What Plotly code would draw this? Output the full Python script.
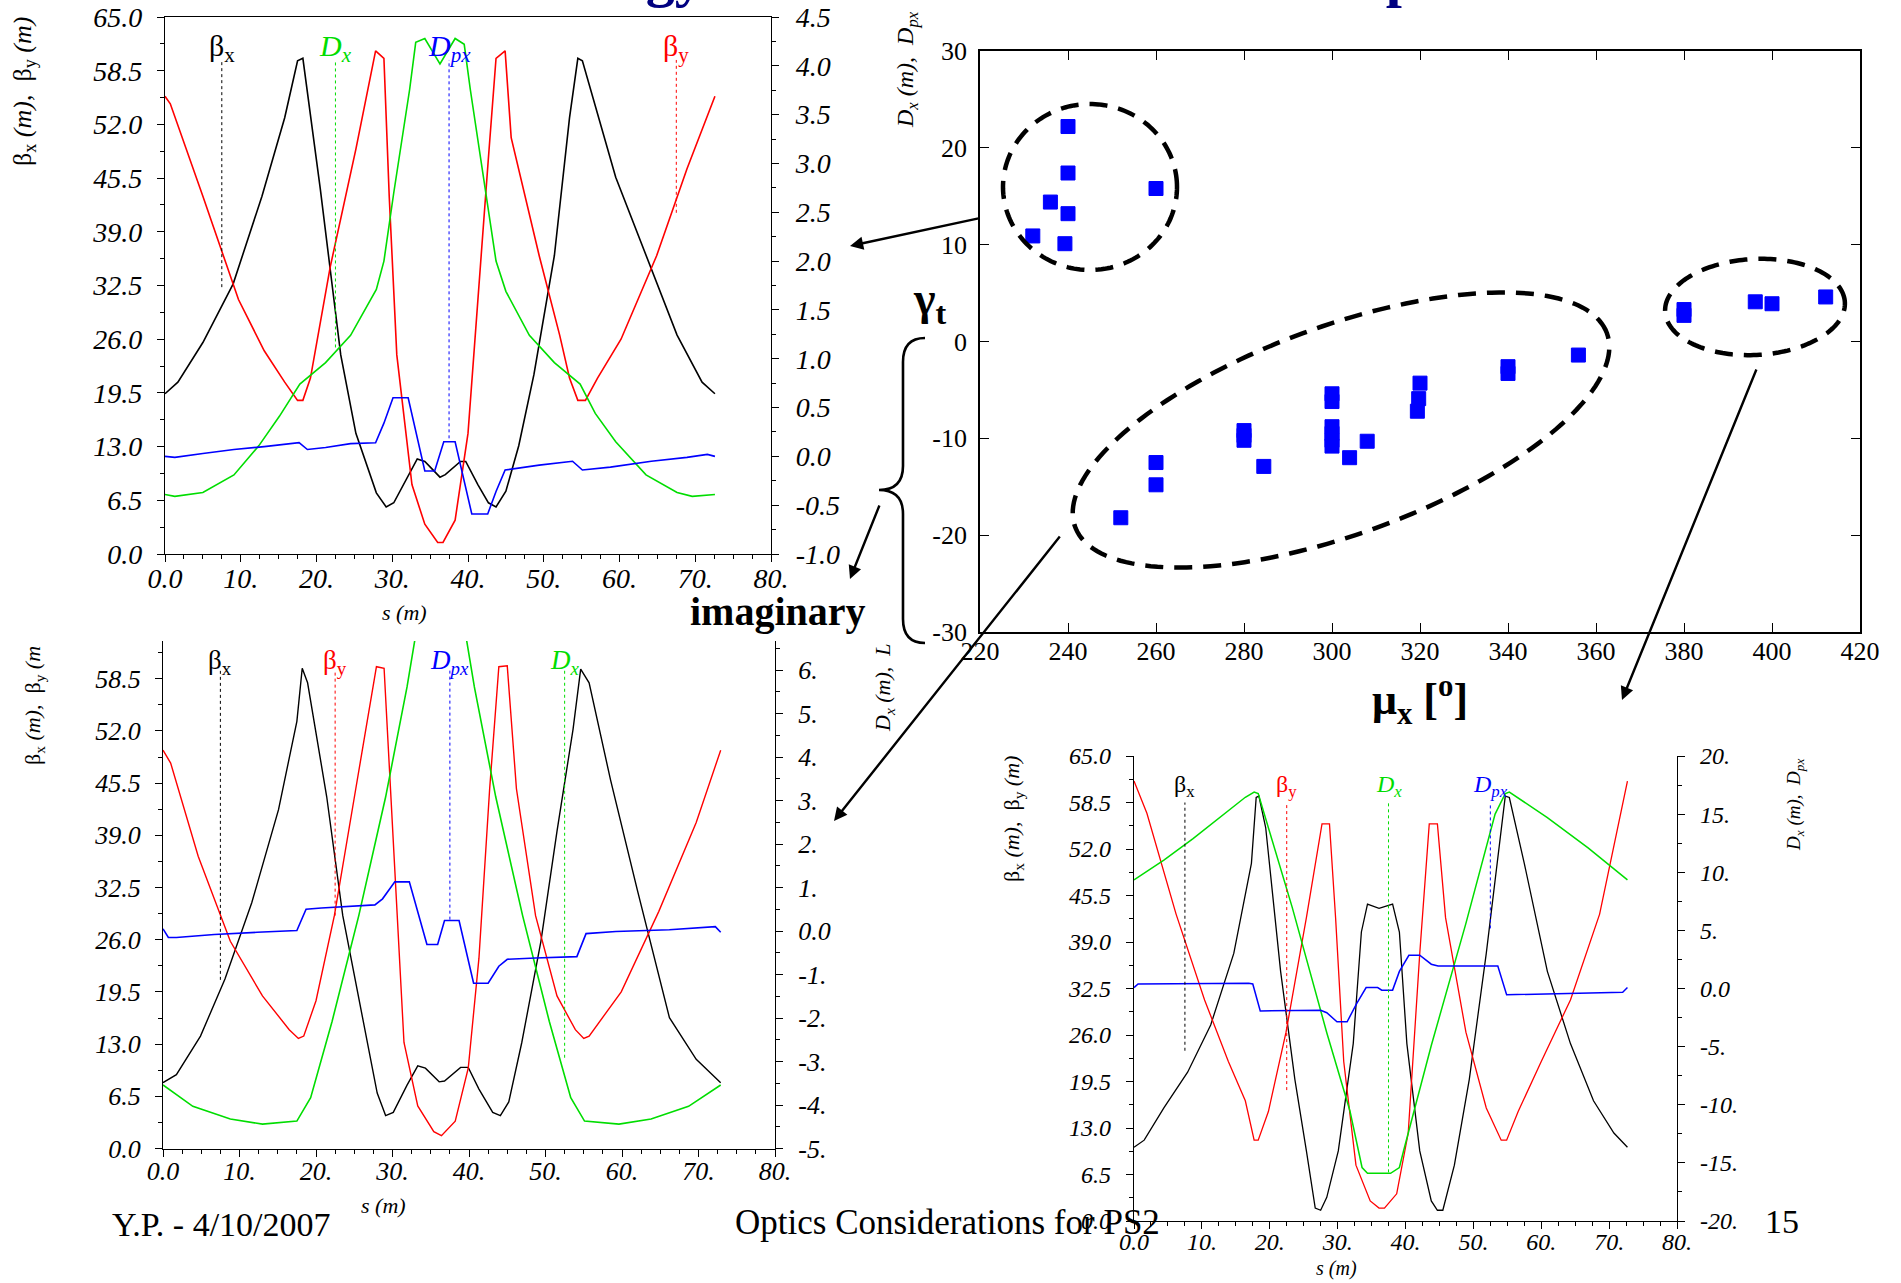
import numpy as np
import plotly.graph_objects as go

W, H = 1901, 1283
def px(x): return x / W
def py(y): return 1 - y / H

SERIF = "Liberation Serif"
BLACK, RED, GREEN, BLUE = "#000000", "#FF0000", "#00DD00", "#0000FF"

# ---------------- top-left optics (beta in m, D on right axis) ----------------
tl_s_bx = [0, 1.7, 5, 9, 12.8, 15.8, 17.5, 18.2, 20.5, 23.2, 25.2, 27.9, 29.2, 30.2, 33.3, 34.3, 36.3, 37.0, 39.0, 39.7,
           41.3, 42.7, 43.7, 45.0, 46.7, 48.7, 51.4, 53.4, 54.5, 55.1, 59.5, 63.5, 67.6, 70.9, 72.6]
tl_bx = [19.4, 20.8, 25.6, 32.7, 43.3, 52.8, 59.7, 60.0, 44.2, 24.1, 14.6, 7.4, 5.7, 6.2, 11.5, 11.2, 9.3, 9.6, 11.2, 11.2,
         8.4, 6.2, 5.7, 7.6, 13.1, 21.7, 36.1, 52.8, 60.0, 59.7, 45.6, 36.1, 26.5, 20.8, 19.4]
tl_s_by = [0, 0.7, 5, 9.7, 13.1, 15.8, 17.5, 18.2, 19.2, 21.8, 25.2, 27.8, 28.9, 29.6, 30.6, 32.6, 34.3, 36.0, 36.7, 38.3,
           40.0, 41.3, 42.7, 43.7, 44.9, 45.7, 49.4, 52.1, 53.4, 54.5, 55.5, 57.1, 60.2, 64.9, 68.9, 72.6]
tl_by = [55.4, 54.5, 43.3, 30.8, 24.6, 20.8, 18.6, 18.6, 21.3, 34.7, 49.0, 60.9, 60.0, 43.3, 24.1, 8.4, 3.6, 1.4, 1.4, 4.1,
         14.6, 31.3, 48.0, 60.0, 60.9, 50.4, 36.1, 26.5, 21.3, 18.6, 18.6, 21.3, 26.0, 36.1, 46.6, 55.4]
tl_s_dx = [0, 1.3, 5, 9.1, 12.4, 15.1, 17.8, 21.2, 24.5, 27.9, 28.9, 30.2, 32.3, 33.1, 34.3, 36.3, 38.3, 39.5, 40.3, 42.4,
           43.7, 45.0, 48.1, 51.4, 54.8, 56.8, 59.5, 63.5, 67.6, 69.6, 72.6]
tl_dx = [-0.39, -0.41, -0.37, -0.19, 0.11, 0.41, 0.74, 0.96, 1.24, 1.71, 2.00, 2.70, 3.76, 4.24, 4.28, 4.02, 4.28, 4.22, 3.76,
         2.70, 2.00, 1.69, 1.24, 0.96, 0.74, 0.44, 0.15, -0.19, -0.37, -0.41, -0.39]
tl_s_dpx = [0, 1.3, 5, 9.1, 13.1, 17.1, 17.7, 18.8, 21.2, 24.5, 27.8, 28.9, 30.1, 32.1, 34.3, 35.6, 36.8, 38.3, 40.5, 42.6,
            43.7, 44.9, 49.4, 53.8, 55.1, 58.8, 64.2, 68.9, 71.6, 72.6]
tl_dpx = [0.00, -0.01, 0.03, 0.07, 0.10, 0.14, 0.14, 0.07, 0.09, 0.13, 0.14, 0.34, 0.60, 0.60, -0.15, -0.15, 0.15, 0.15,
          -0.59, -0.59, -0.36, -0.14, -0.09, -0.05, -0.14, -0.11, -0.05, -0.01, 0.02, 0.00]

# ---------------- bottom-left optics ----------------
bl_s_bx = [0, 1.75, 4.9, 8.1, 11.6, 15.1, 17.5, 18.2, 18.9, 21.4, 23.5, 26.3, 28.0, 29.1, 30.1, 31.9, 33.3, 34.3, 36.1, 36.8,
           38.9, 39.9, 41.3, 43.1, 44.1, 45.2, 46.9, 49.4, 51.5, 53.6, 54.6, 55.7, 58.5, 62.0, 66.2, 69.7, 72.9]
bl_bx = [8.2, 9.2, 14.0, 21.1, 30.6, 42.2, 53.2, 59.8, 58.0, 43.8, 29.0, 15.3, 6.9, 4.1, 4.5, 7.9, 10.3, 10.0, 8.3, 8.4,
         10.1, 10.1, 7.4, 4.5, 4.1, 5.8, 13.2, 25.8, 39.5, 52.2, 59.7, 58.0, 45.9, 32.2, 16.3, 11.1, 8.2]
bl_s_by = [0, 1.0, 4.6, 8.8, 13.0, 16.5, 17.7, 18.4, 20.0, 22.4, 25.2, 27.9, 28.9, 30.0, 31.5, 33.3, 35.4, 36.4, 38.2, 39.9,
           41.3, 42.7, 43.9, 45.0, 46.2, 48.7, 51.5, 53.9, 55.0, 55.7, 59.9, 64.8, 69.7, 72.9]
bl_by = [49.6, 48.0, 36.4, 25.8, 19.0, 14.8, 13.7, 14.0, 18.4, 29.0, 44.8, 60.0, 59.8, 39.5, 13.2, 5.3, 2.1, 1.6, 3.4, 10.0,
         23.7, 44.8, 60.0, 60.1, 44.8, 29.0, 19.0, 14.8, 13.7, 14.0, 19.5, 29.5, 40.6, 49.6]
bl_s_dx = [0, 3.9, 8.8, 13.0, 17.5, 19.3, 22.1, 25.6, 29.1, 31.9, 33.4, 34.3, 36.3, 38.3, 39.2, 40.7, 43.5, 47.0, 50.5, 53.3,
           55.1, 59.6, 63.8, 68.7, 72.9]
bl_dx = [-3.54, -4.03, -4.32, -4.44, -4.37, -3.83, -2.08, 0.36, 3.08, 5.61, 7.2, 7.35, 6.7, 7.35, 7.2, 5.61, 3.08, 0.36,
         -2.08, -3.83, -4.37, -4.44, -4.32, -4.03, -3.54]
bl_s_dpx = [0, 0.7, 1.75, 6.7, 12.3, 17.5, 18.7, 20.7, 27.7, 28.7, 30.3, 32.2, 34.5, 35.9, 36.8, 38.7, 40.6, 42.5, 43.9, 45.0,
            48.7, 54.1, 55.3, 59.2, 66.2, 72.2, 72.9]
bl_dpx = [0.05, -0.15, -0.15, -0.08, -0.03, 0.01, 0.50, 0.53, 0.60, 0.74, 1.13, 1.13, -0.31, -0.31, 0.24, 0.24, -1.20, -1.20,
          -0.81, -0.65, -0.62, -0.59, -0.06, -0.01, 0.03, 0.10, -0.03]

# ---------------- bottom-right optics ----------------
br_s_bx = [0, 1.5, 4.4, 7.9, 11.3, 14.7, 17.3, 18.0, 18.4, 19.4, 21.6, 23.7, 25.4, 26.7, 27.5, 28.4, 30.1, 32.3, 33.5, 34.4,
           36.1, 38.1, 39.1, 40.2, 42.1, 43.8, 44.7, 45.5, 47.2, 49.4, 51.9, 54.1, 54.7, 55.3, 57.5, 60.9, 64.3, 67.7, 70.7, 72.7]
br_bx = [10.3, 11.3, 15.8, 20.8, 27.4, 37.4, 50.0, 59.2, 59.4, 55.0, 34.9, 19.8, 9.8, 1.8, 1.5, 3.3, 9.8, 24.8, 40.4, 44.3,
         43.7, 44.3, 40.4, 24.8, 9.8, 2.8, 1.5, 1.5, 7.8, 19.8, 37.4, 55.0, 59.4, 59.2, 50.0, 34.9, 24.8, 16.8, 12.3, 10.3]
br_s_by = [0, 1.9, 6.2, 10.4, 13.9, 16.4, 17.7, 18.3, 19.8, 22.4, 25.4, 27.7, 28.8, 29.7, 30.9, 32.7, 34.8, 36.1, 36.9, 38.7,
           40.4, 42.1, 43.5, 44.7, 45.9, 48.9, 51.9, 54.1, 54.9, 56.6, 60.0, 64.3, 68.6, 72.7]
br_by = [61.5, 57.0, 42.9, 30.9, 22.3, 16.8, 11.3, 11.3, 15.3, 26.4, 42.4, 55.5, 55.5, 42.4, 22.3, 7.8, 2.8, 1.8, 1.8, 3.8,
         12.3, 37.4, 55.5, 55.5, 42.4, 26.4, 15.8, 11.3, 11.3, 15.3, 22.3, 30.9, 42.9, 61.5]
br_s_dx = [0, 4.4, 8.7, 13.0, 16.4, 17.7, 18.3, 23.3, 28.4, 31.8, 33.6, 34.4, 37.8, 39.1, 39.7, 43.8, 48.9, 53.2, 54.7, 55.3,
           60.9, 66.9, 72.7]
br_dx = [9.34, 11.04, 12.9, 14.9, 16.45, 16.9, 16.76, 7.0, -3.8, -10.5, -15.4, -15.9, -15.9, -15.4, -14.0, -4.9, 5.6, 15.0,
         16.76, 16.9, 14.7, 12.1, 9.34]
br_s_dpx = [0, 0.6, 16.9, 17.5, 18.6, 27.5, 28.4, 29.9, 31.4, 32.8, 34.2, 35.9, 36.5, 38.1, 39.1, 40.5, 42.1, 43.8, 44.8,
            53.6, 54.9, 72.0, 72.7]
br_dpx = [0.08, 0.39, 0.45, 0.39, -1.93, -1.87, -2.08, -2.86, -2.86, -1.31, 0.08, 0.08, -0.14, -0.14, 1.47, 2.86, 2.86,
          2.09, 1.93, 1.93, -0.54, -0.32, 0.08]

# ---------------- gamma_t versus mu_x scan ----------------
mu_x = [240, 240, 236, 240, 232, 239.3, 260, 252, 260, 260, 280, 280, 280, 284.5, 300, 300, 300, 300, 300, 300, 304, 308,
        320, 319.7, 319.4, 340, 340, 356, 380, 380, 396.2, 400, 412.2]
gamma_t = [22.2, 17.4, 14.4, 13.2, 10.9, 10.1, 15.8, -18.2, -12.5, -14.8, -9.2, -9.7, -10.2, -12.9, -5.4, -6.2, -8.8, -9.5,
           -10.2, -10.8, -12.0, -10.3, -4.3, -5.9, -7.2, -2.6, -3.3, -1.4, 3.3, 2.7, 4.1, 3.9, 4.6]

# ---------------- tick labels ----------------
s_ticks = [0, 10, 20, 30, 40, 50, 60, 70, 80]
s_ticktext = ["0.0", "10.", "20.", "30.", "40.", "50.", "60.", "70.", "80."]
beta_ticks = [0, 6.5, 13, 19.5, 26, 32.5, 39, 45.5, 52, 58.5, 65]
beta_ticktext = ["0.0", "6.5", "13.0", "19.5", "26.0", "32.5", "39.0", "45.5", "52.0", "58.5", "65.0"]
tl_d_ticks = [-1.0, -0.5, 0.0, 0.5, 1.0, 1.5, 2.0, 2.5, 3.0, 3.5, 4.0, 4.5]
tl_d_ticktext = ["-1.0", "-0.5", "0.0", "0.5", "1.0", "1.5", "2.0", "2.5", "3.0", "3.5", "4.0", "4.5"]
bl_d_ticks = [-5, -4, -3, -2, -1, 0, 1, 2, 3, 4, 5, 6]
bl_d_ticktext = ["-5.", "-4.", "-3.", "-2.", "-1.", "0.0", "1.", "2.", "3.", "4.", "5.", "6."]
br_d_ticks = [-20, -15, -10, -5, 0, 5, 10, 15, 20]
br_d_ticktext = ["-20.", "-15.", "-10.", "-5.", "0.0", "5.", "10.", "15.", "20."]
mu_ticks = [220, 240, 260, 280, 300, 320, 340, 360, 380, 400, 420]
gt_ticks = [-30, -20, -10, 0, 10, 20, 30]
gt_ticktext = ["-30", "-20", "-10", "0", "10", "20", "30"]

# label markers (text, colour, s position, lower end of dotted line, italic)
tl_lab = [("β<sub>x</sub>", BLACK, 7.5, 32.3, False), ("D<sub>x</sub>", GREEN, 22.5, 25.0, True),
          ("D<sub>px</sub>", BLUE, 37.5, 14.0, True), ("β<sub>y</sub>", RED, 67.5, 41.3, False)]
bl_lab = [("β<sub>x</sub>", BLACK, 7.5, 21.0, False), ("β<sub>y</sub>", RED, 22.5, 29.0, False),
          ("D<sub>px</sub>", BLUE, 37.5, 28.5, True), ("D<sub>x</sub>", GREEN, 52.5, 11.3, True)]
br_lab = [("β<sub>x</sub>", BLACK, 7.5, 23.8, False), ("β<sub>y</sub>", RED, 22.5, 18.3, False),
          ("D<sub>x</sub>", GREEN, 37.5, 6.8, True), ("D<sub>px</sub>", BLUE, 52.5, 40.9, True)]

fig = go.Figure()

def line(x, y, color, xa, ya, width):
    fig.add_trace(go.Scatter(x=x, y=y, mode="lines", line=dict(color=color, width=width),
                             xaxis=xa, yaxis=ya, hoverinfo="skip", showlegend=False))

line(tl_s_bx, tl_bx, BLACK, "x", "y", 1.6)
line(tl_s_by, tl_by, RED, "x", "y", 1.6)
line(tl_s_dx, tl_dx, GREEN, "x", "y2", 1.6)
line(tl_s_dpx, tl_dpx, BLUE, "x", "y2", 1.6)

line(bl_s_bx, bl_bx, BLACK, "x3", "y4", 1.4)
line(bl_s_by, bl_by, RED, "x3", "y4", 1.4)
line(bl_s_dx, bl_dx, GREEN, "x3", "y5", 1.6)
line(bl_s_dpx, bl_dpx, BLUE, "x3", "y5", 1.6)

line(br_s_bx, br_bx, BLACK, "x4", "y6", 1.3)
line(br_s_by, br_by, RED, "x4", "y6", 1.3)
line(br_s_dx, br_dx, GREEN, "x4", "y7", 1.5)
line(br_s_dpx, br_dpx, BLUE, "x4", "y7", 1.5)

fig.add_trace(go.Scatter(x=mu_x, y=gamma_t, mode="markers", xaxis="x2", yaxis="y3",
                         marker=dict(symbol="square", size=14, color=BLUE, line=dict(color=BLUE, width=1)),
                         hoverinfo="skip", showlegend=False))

def tfont(size, italic=True):
    return dict(family=SERIF, size=size, color="black", style="italic" if italic else "normal")

def xax(dom, anchor, size, mirror=False):
    return dict(domain=[px(dom[0]), px(dom[1])], range=[0, 80], tickmode="array", tickvals=s_ticks,
                ticktext=s_ticktext, ticks="outside", ticklen=7, tickcolor="black", showline=True,
                linecolor="black", linewidth=1.3, mirror=mirror, showgrid=False, zeroline=False,
                tickfont=tfont(size), anchor=anchor, fixedrange=True, automargin=False,
                ticklabelstandoff=-8,
                minor=dict(dtick=2.5, tick0=0, ticks="outside", ticklen=4, tickcolor="black"))

def yax(dom, rng, tv, tt, anchor, size, minor, standoff, side="left", overlay=None):
    d = dict(range=rng, tickmode="array", tickvals=tv, ticktext=tt, ticks="outside", ticklen=7,
             tickcolor="black", showline=True, linecolor="black", linewidth=1.3, showgrid=False,
             zeroline=False, tickfont=tfont(size), anchor=anchor, side=side, fixedrange=True,
             ticklabelstandoff=standoff, automargin=False,
             minor=dict(dtick=minor, tick0=0, ticks="outside", ticklen=4, tickcolor="black"))
    if overlay:
        d["overlaying"] = overlay
    else:
        d["domain"] = [py(dom[1]), py(dom[0])]
    return d

layout = dict(
    template="none",
    width=W, height=H, margin=dict(l=0, r=0, t=0, b=0, pad=0, autoexpand=False),
    paper_bgcolor="white", plot_bgcolor="white", showlegend=False,
    xaxis=xax((165, 771), "y", 28, mirror=True),
    yaxis=yax((17, 554), [0, 65], beta_ticks, beta_ticktext, "x", 28, 3.25, 9),
    yaxis2=yax(None, [-1.0, 4.5], tl_d_ticks, tl_d_ticktext, "x", 28, 0.25, 11, side="right", overlay="y"),
    xaxis3=xax((163, 775), "y4", 26),
    yaxis4=yax((641, 1148.5), [0, 63.2], beta_ticks, beta_ticktext, "x3", 26, 3.25, 9),
    yaxis5=yax(None, [-5, 6.667], bl_d_ticks, bl_d_ticktext, "x3", 26, 0.5, 10, side="right", overlay="y4"),
    xaxis4=xax((1134, 1677), "y6", 24),
    yaxis6=yax((756, 1221), [0, 65], beta_ticks, beta_ticktext, "x4", 24, 3.25, 10),
    yaxis7=yax(None, [-20, 20], br_d_ticks, br_d_ticktext, "x4", 24, 2.5, 10, side="right", overlay="y6"),
    xaxis2=dict(domain=[px(980), px(1860)], range=[220, 420], tickmode="array", tickvals=mu_ticks,
                ticks="inside", ticklen=9, tickcolor="black", showline=True, linecolor="black", linewidth=1.6,
                mirror="allticks", showgrid=False, zeroline=False, tickfont=tfont(26, False), anchor="y3",
                fixedrange=True, ticklabelstandoff=-5, automargin=False),
    yaxis3=dict(domain=[py(632), py(51)], range=[-30, 30], tickmode="array", tickvals=gt_ticks, ticktext=gt_ticktext,
                ticks="inside", ticklen=9, tickcolor="black", showline=True, linecolor="black", linewidth=1.6,
                mirror="allticks", showgrid=False, zeroline=False, tickfont=tfont(26, False), anchor="x2",
                fixedrange=True, ticklabelstandoff=6, automargin=False),
)
fig.update_layout(**layout)

shapes = []
annots = []

def txt(x, y, text, size, color="black", bold=False, italic=False, xanchor="center", yanchor="middle", angle=0):
    annots.append(dict(x=px(x), y=py(y), xref="paper", yref="paper", text=text, showarrow=False,
                       font=dict(family=SERIF, size=size, color=color, weight="bold" if bold else "normal",
                                 style="italic" if italic else "normal"),
                       xanchor=xanchor, yanchor=yanchor, textangle=angle))

def arrow(tail, head):
    annots.append(dict(x=px(head[0]), y=py(head[1]), xref="paper", yref="paper", text="",
                       ax=tail[0] - head[0], ay=tail[1] - head[1], axref="pixel", ayref="pixel",
                       showarrow=True, arrowhead=2, arrowsize=1.1, arrowwidth=2.4, arrowcolor="black", standoff=0))

def ellipse(cx, cy, a, b, theta):
    t = np.linspace(0, 2 * np.pi, 180)
    th = np.deg2rad(theta)
    ex = cx + a * np.cos(t) * np.cos(th) - b * np.sin(t) * np.sin(th)
    ey = cy - (a * np.cos(t) * np.sin(th) + b * np.sin(t) * np.cos(th))
    path = "M " + " L ".join(f"{px(xx):.5f},{py(yy):.5f}" for xx, yy in zip(ex, ey)) + " Z"
    shapes.append(dict(type="path", path=path, xref="paper", yref="paper",
                       line=dict(color="black", width=4.5, dash="18px,11px")))

def series_labels(labels, xa, ya, ytext, ytop, size):
    for text, color, s, lo, ital in labels:
        shapes.append(dict(type="line", xref=xa, yref=ya, x0=s, x1=s, y0=lo, y1=ytop,
                           line=dict(color=color, width=1, dash="dot")))
        t = f"<i>{text}</i>" if ital else text
        annots.append(dict(x=s, y=ytext, xref=xa, yref=ya, text=t, showarrow=False,
                           font=dict(family=SERIF, size=size, color=color), xanchor="center", yanchor="middle"))

series_labels(tl_lab, "x", "y", 61.3, 59.8, 30)
series_labels(bl_lab, "x3", "y4", 60.6, 59.6, 27)
series_labels(br_lab, "x4", "y6", 60.8, 58.5, 24)

# dashed groupings on the scan
ellipse(1090, 187, 87, 83, 0)
ellipse(1341, 430, 283, 104, 20)
ellipse(1755, 307, 90, 48, 3)

# curly brace for imaginary gamma_t
pts = [(925, 338), (903, 338), (903, 362), (903, 466), (903, 490), (879, 490), (903, 490), (903, 514),
       (903, 619), (903, 643), (925, 643)]
P = [f"{px(a):.5f},{py(b):.5f}" for a, b in pts]
brace = f"M {P[0]} Q {P[1]} {P[2]} L {P[3]} Q {P[4]} {P[5]} Q {P[6]} {P[7]} L {P[8]} Q {P[9]} {P[10]}"
shapes.append(dict(type="path", path=brace, xref="paper", yref="paper", line=dict(color="black", width=2.6)))

arrow((980, 218), (850, 246))
arrow((880, 504), (850, 579))
arrow((1061, 535), (834, 821))
arrow((1757, 368), (1622, 700))

# texts
txt(304, 11, "Lattice Strategy and the new Arc Module Optimization", 58, color="#000080", bold=True,
    xanchor="left", yanchor="bottom")
txt(930, 302, "γ<sub>t</sub>", 46, bold=True)
txt(1420, 700, "μ<sub>x</sub> [<sup>o</sup>]", 44, bold=True)
txt(778, 611, "imaginary", 40, bold=True)

txt(24, 92, "β<sub>x</sub> <i>(m)</i>,  β<sub>y</sub> <i>(m)</i>", 26, angle=-90)
txt(907, 70, "<i>D<sub>x</sub> (m),  D<sub>px</sub></i>", 24, angle=-90)
txt(404, 613, "<i>s (m)</i>", 22)
txt(34, 706, "β<sub>x</sub> <i>(m)</i>,  β<sub>y</sub> <i>(m</i>", 22, angle=-90)
txt(884, 688, "<i>D<sub>x</sub> (m),  L</i>", 22, angle=-90)
txt(383, 1205, "<i>s (m)</i>", 22)
txt(1013, 819, "β<sub>x</sub> <i>(m)</i>,  β<sub>y</sub> <i>(m)</i>", 22, angle=-90)
txt(1795, 805, "<i>D<sub>x</sub> (m),  D<sub>px</sub></i>", 19, angle=-90)
txt(1336, 1268, "<i>s (m)</i>", 20)

txt(110, 1224, "Y.P. - 4/10/2007", 34, xanchor="left")
txt(733, 1222, "Optics Considerations for PS2", 35, xanchor="left")
txt(1782, 1221, "15", 34)

fig.update_layout(shapes=shapes, annotations=annots)

fig.write_html("out.html", config={"displayModeBar": False},
               post_script="document.body.style.margin='0px';document.body.style.overflow='hidden';")
